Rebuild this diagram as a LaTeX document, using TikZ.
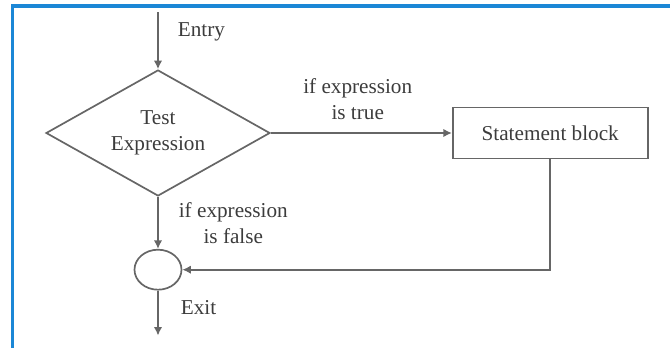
\documentclass[tikz,border=0pt]{standalone}
\usepackage{fontspec}
\newfontfamily\diagfont{Liberation Serif}
\usetikzlibrary{arrows.meta,positioning,shapes.geometric}
\definecolor{frameblue}{HTML}{1B87D6}
\definecolor{linegray}{HTML}{666666}
\definecolor{textgray}{HTML}{3C3C3C}

\begin{document}
\begin{tikzpicture}[
        box/.style={
            draw=linegray,
            line width=0.85pt,
            align=center,
            text=textgray,
            inner sep=0pt,
            font=\diagfont\fontsize{10.6}{13}\selectfont
        },
        decision/.style={box, diamond, aspect=1.78, minimum width=112pt, minimum height=63pt},
        block/.style={box, minimum width=97.5pt, minimum height=25.5pt},
        junction/.style={box, ellipse, minimum width=23.5pt, minimum height=20pt},
        lbl/.style={align=center, text=textgray, inner sep=0pt, font=\diagfont\fontsize{10.6}{13}\selectfont},
        flow/.style={-{Latex[length=4.2pt,width=4.2pt]}, line width=0.85pt, draw=linegray},
        border/.style={line width=1.6pt, draw=frameblue},
        node distance=26pt and 90.5pt
    ]
        \useasboundingbox (0,0) rectangle (335pt,174pt);
        \coordinate (fl) at (6.3pt,0pt);
        \coordinate (ft) at (6.3pt,171pt);
        \coordinate (fr) at (335pt,171pt);
        \draw[border] (fl) -- (ft) -- (fr);

        \node[decision] (test) at (79pt,107.5pt) {Test\\Expression};
        \node[block, right=of test] (stmt) {Statement block};
        \node[junction, below=of test] (join) {};
        \coordinate[above=28.5pt of test.north] (entry);
        \coordinate[below=22.5pt of join.south] (exit);

        \draw[flow] (entry) -- node[lbl, pos=0.35, right=9.5pt] (entrylbl) {Entry} (test.north);
        \draw[flow] (test.east) -- node[lbl, pos=0.48, above=6pt] (truelbl) {if expression\\is true} (stmt.west);
        \draw[flow] (test.south) -- node[lbl, pos=0.5, right=10pt] (falselbl) {if expression\\is false} (join.north);
        \draw[flow] (stmt.south) |- (join.east);
        \draw[flow] (join.south) -- node[lbl, pos=0.38, right=11pt] (exitlbl) {Exit} (exit);
    \end{tikzpicture}
\end{document}
